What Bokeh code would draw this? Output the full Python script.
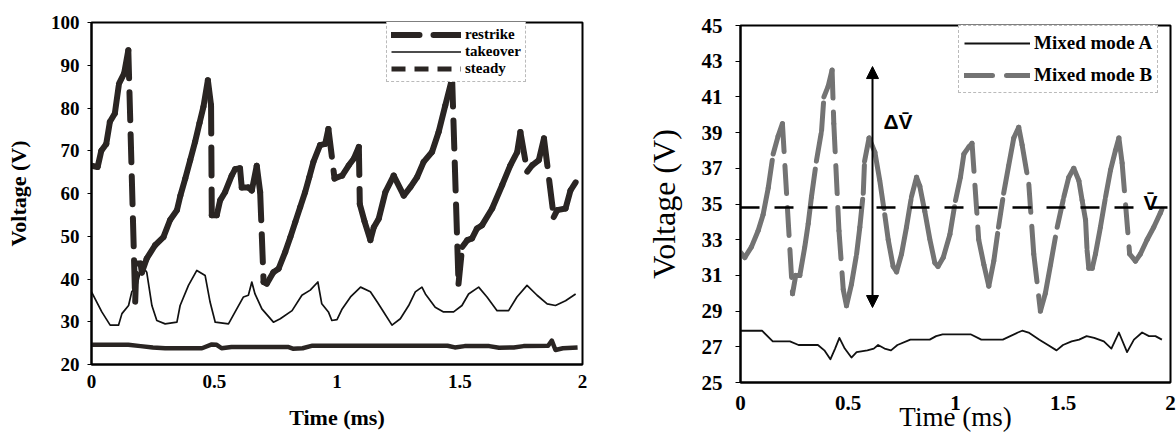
from bokeh.plotting import figure
from bokeh.layouts import row
from bokeh.models import (Range1d, FixedTicker, Legend, LegendItem, Arrow, NormalHead,
                          Label, Span, ColumnDataSource)
from bokeh.embed import file_html
from bokeh.resources import INLINE

# ---------------- left panel data (Voltage vs time) ----------------
restrike_t = [0.0, 0.025, 0.04, 0.06, 0.075, 0.095, 0.112, 0.133, 0.15,
              0.178, 0.183, 0.2, 0.205, 0.225, 0.259, 0.293, 0.32, 0.348, 0.362, 0.382,
              0.402, 0.422, 0.44, 0.456, 0.474, 0.487,
              0.49, 0.51, 0.524, 0.544, 0.571, 0.585, 0.605, 0.612, 0.639, 0.653, 0.673, 0.687,
              0.701, 0.714, 0.741, 0.762, 0.789, 0.81, 0.83, 0.85, 0.87, 0.887, 0.904, 0.931,
              0.952, 0.965, 0.99, 1.021, 1.048, 1.069, 1.089, 1.093, 1.112, 1.136, 1.15, 1.17,
              1.197, 1.231, 1.272, 1.299, 1.326, 1.353, 1.387, 1.414, 1.441, 1.469,
              1.495, 1.51, 1.531, 1.55, 1.57, 1.591, 1.632, 1.673, 1.706, 1.734, 1.747,
              1.775, 1.795, 1.822, 1.843, 1.883, 1.897, 1.931, 1.951, 1.972]
restrike_v = [66.5, 66.2, 70.0, 71.6, 76.8, 78.7, 85.7, 88.1, 93.5,
              34.7, 43.6, 43.6, 41.5, 44.8, 47.9, 49.8, 53.8, 56.1, 59.5, 63.5,
              67.8, 72.1, 76.5, 80.3, 86.5, 80.6,
              54.9, 54.9, 58.4, 60.3, 64.2, 65.7, 65.9, 61.4, 61.4, 60.7, 66.5, 60.3,
              39.3, 38.9, 41.6, 42.4, 46.3, 49.8, 53.3, 56.8, 60.3, 63.8, 67.4, 71.3,
              71.6, 75.1, 63.5, 64.2, 66.6, 68.2, 70.9, 57.5, 53.5, 49.1, 52.1, 54.1,
              60.3, 64.2, 59.5, 61.5, 63.8, 67.4, 69.7, 74.4, 80.6, 86.9,
              38.9, 47.5, 49.1, 49.5, 51.8, 52.6, 56.5, 62.0, 66.6, 69.7, 74.4,
              65.1, 66.6, 67.8, 72.9, 54.5, 56.1, 56.5, 60.7, 62.6]

takeover_t = [0.0, 0.042, 0.076, 0.11, 0.124, 0.151, 0.164, 0.185, 0.205, 0.225, 0.246,
              0.266, 0.3, 0.348, 0.361, 0.395, 0.429, 0.463, 0.483, 0.504, 0.558, 0.585,
              0.619, 0.639, 0.653, 0.666, 0.694, 0.741, 0.769, 0.817, 0.857, 0.891, 0.922,
              0.938, 0.965, 0.979, 1.0, 1.021, 1.055, 1.096, 1.136, 1.164, 1.19, 1.224,
              1.258, 1.292, 1.319, 1.346, 1.36, 1.4, 1.434, 1.475, 1.509, 1.536, 1.577,
              1.611, 1.652, 1.699, 1.733, 1.774, 1.815, 1.856, 1.89, 1.931, 1.972]
takeover_v = [37.0, 32.3, 29.2, 29.2, 31.9, 33.8, 37.0, 38.5, 43.2, 41.6, 33.8,
              30.3, 29.5, 29.9, 33.8, 38.5, 42.0, 40.8, 34.6, 29.9, 29.5, 32.3,
              35.8, 36.2, 39.3, 36.5, 33.0, 29.9, 30.7, 32.6, 36.2, 37.4, 39.3,
              34.2, 32.3, 30.3, 30.5, 33.0, 35.8, 38.1, 37.0, 34.6, 32.3, 29.2,
              30.7, 33.8, 37.0, 38.1, 36.5, 33.4, 32.3, 32.3, 33.8, 36.5, 38.1,
              35.8, 32.6, 32.6, 35.8, 38.5, 36.2, 34.2, 33.8, 34.9, 36.5]

steady_t = [0.0, 0.15, 0.2, 0.25, 0.3, 0.45, 0.49, 0.51, 0.53, 0.57, 0.8, 0.82, 0.86,
            0.9, 1.0, 1.45, 1.48, 1.52, 1.62, 1.66, 1.72, 1.76, 1.86, 1.875, 1.89, 1.92, 1.98]
steady_v = [24.6, 24.6, 24.3, 24.0, 23.8, 23.8, 24.7, 24.6, 23.8, 24.1, 24.1, 23.7, 23.8,
            24.4, 24.4, 24.4, 24.0, 24.3, 24.3, 23.9, 24.0, 24.3, 24.4, 25.6, 23.4, 23.8, 24.0]

left_series_labels = ["restrike", "takeover", "steady"]
left_x_ticks = [0, 0.5, 1, 1.5, 2]
left_x_labels = ["0", "0.5", "1", "1.5", "2"]
left_y_ticks = [20, 30, 40, 50, 60, 70, 80, 90, 100]

# ---------------- right panel data ----------------
modeA_t = [0.0, 0.1, 0.15, 0.23, 0.27, 0.36, 0.39, 0.418, 0.44, 0.46, 0.485, 0.516, 0.54,
           0.59, 0.62, 0.64, 0.67, 0.70, 0.73, 0.79, 0.88, 0.91, 0.94, 1.07, 1.12, 1.18,
           1.22, 1.29, 1.31, 1.34, 1.39, 1.43, 1.47, 1.5, 1.54, 1.575, 1.61, 1.645, 1.69,
           1.725, 1.76, 1.798, 1.83, 1.868, 1.9, 1.93, 1.96]
modeA_v = [27.9, 27.9, 27.3, 27.3, 27.1, 27.1, 26.8, 26.3, 26.9, 27.5, 26.9, 26.4, 26.7,
           26.8, 26.9, 27.1, 26.9, 26.8, 27.1, 27.4, 27.4, 27.6, 27.7, 27.7, 27.4, 27.4,
           27.4, 27.8, 27.9, 27.8, 27.4, 27.1, 26.8, 27.1, 27.3, 27.4, 27.6, 27.5, 27.3,
           26.9, 27.8, 26.7, 27.4, 27.8, 27.6, 27.6, 27.4]

modeB_t = [0.0, 0.02, 0.051, 0.082, 0.105, 0.129, 0.152, 0.175, 0.195, 0.242, 0.257, 0.276,
           0.299, 0.315, 0.33, 0.353, 0.377, 0.388, 0.408, 0.426, 0.434, 0.458, 0.478, 0.493,
           0.516, 0.54, 0.555, 0.571, 0.577, 0.598, 0.625, 0.648, 0.671, 0.687, 0.71, 0.726,
           0.749, 0.772, 0.795, 0.819, 0.834, 0.857, 0.881, 0.904, 0.919, 0.943, 0.974, 1.0,
           1.023, 1.039, 1.062, 1.077, 1.108, 1.132, 1.155, 1.178, 1.2, 1.224, 1.248, 1.271,
           1.294, 1.31, 1.341, 1.364, 1.395, 1.418, 1.442, 1.473, 1.504, 1.527, 1.55, 1.574,
           1.589, 1.605, 1.612, 1.62, 1.636, 1.651, 1.674, 1.698, 1.721, 1.744, 1.76, 1.775,
           1.81, 1.837, 1.86, 1.891, 1.922, 1.953, 1.96]
modeB_v = [32.3, 32.0, 32.6, 33.5, 34.4, 35.9, 37.8, 38.8, 39.5, 29.97, 31.0, 31.0,
           32.6, 33.9, 35.4, 37.4, 39.1, 41.0, 41.6, 42.5, 39.5, 33.5, 30.2, 29.3,
           30.5, 32.2, 33.7, 35.6, 37.4, 38.7, 37.9, 36.3, 34.4, 33.0, 31.5, 31.2,
           32.2, 33.7, 35.4, 36.5, 36.0, 34.6, 33.0, 31.7, 31.5, 32.0, 33.3, 35.2,
           36.5, 37.8, 38.2, 38.4, 33.0, 31.6, 30.4, 31.8, 33.7, 35.6, 37.2, 38.7,
           39.3, 38.3, 36.1, 32.2, 29.0, 30.0, 31.6, 33.7, 35.4, 36.5, 37.0, 36.3,
           35.2, 34.1, 32.4, 31.4, 31.4, 32.2, 33.7, 35.4, 36.9, 38.0, 38.7, 37.3,
           32.2, 31.8, 32.2, 33.0, 33.7, 34.5, 34.7]

right_series_labels = ["Mixed mode A", "Mixed mode B"]
right_x_ticks = [0, 0.5, 1, 1.5, 2]
right_x_labels = ["0", "0.5", "1", "1.5", "2"]
right_y_ticks = [25, 27, 29, 31, 33, 35, 37, 39, 41, 43, 45]

mean_v = 34.8          # V-bar level
delta_t = 0.614        # time at which the delta-V arrow is drawn
delta_lo = 29.2
delta_hi = 42.7

SERIF = "Liberation Serif"
SANS = "Liberation Sans"
DARK = "#2a2523"
NAN = float("nan")


def segs(t, v):
    return ColumnDataSource(dict(x0=t[:-1], y0=v[:-1], x1=t[1:], y1=v[1:]))


def style(p, xt, xl, yt):
    p.grid.visible = False
    p.outline_line_color = "black"
    p.outline_line_width = 2
    p.outline_line_alpha = 1
    p.background_fill_color = "white"
    p.border_fill_color = "white"
    p.xaxis.ticker = FixedTicker(ticks=xt)
    p.xaxis.major_label_overrides = {float(a): b for a, b in zip(xt, xl)}
    p.yaxis.ticker = FixedTicker(ticks=yt)
    for ax in (p.xaxis[0], p.yaxis[0]):
        ax.axis_line_width = 2
        ax.axis_line_color = "black"
        ax.major_label_text_font = SERIF
        ax.major_label_text_font_style = "bold"
        ax.major_label_text_color = "black"
        ax.axis_label_text_font = SERIF
        ax.axis_label_text_color = "black"
        ax.minor_tick_line_color = None
        ax.major_tick_in = 0
    p.xaxis.major_tick_out = 0


# ================= LEFT PANEL =================
p1 = figure(width=620, height=438, x_range=Range1d(0, 2), y_range=Range1d(20, 100),
            output_backend="svg", toolbar_location=None, frame_align=False,
            min_border_left=91, min_border_right=38, min_border_top=22, min_border_bottom=74)
style(p1, left_x_ticks, left_x_labels, left_y_ticks)
p1.xaxis.axis_label = "Time (ms)"
p1.yaxis.axis_label = "Voltage (V)"
p1.xaxis.major_label_text_font_size = "19px"
p1.yaxis.major_label_text_font_size = "19px"
p1.xaxis.axis_label_text_font_size = "22px"
p1.yaxis.axis_label_text_font_size = "22px"
p1.xaxis.axis_label_text_font_style = "bold"
p1.yaxis.axis_label_text_font_style = "bold"
p1.xaxis.major_label_standoff = 10
p1.xaxis.axis_label_standoff = 14
p1.yaxis.major_tick_out = 4
p1.yaxis.major_label_standoff = 8
p1.yaxis.axis_label_standoff = 17

r_steady = p1.line(steady_t, steady_v, line_width=4.5, line_color=DARK, line_join="round")
r_take = p1.line(takeover_t, takeover_v, line_width=1.7, line_color="#111111", line_join="round")
r_restrike = p1.segment(x0="x0", y0="y0", x1="x1", y1="y1", source=segs(restrike_t, restrike_v),
                        line_width=6, line_color=DARK, line_dash="28 14", line_cap="round")
# legend key for the (short-dash) steady series; it carries no data point
r_steady_key = p1.line(x=[NAN], y=[NAN], line_width=5, line_color=DARK, line_dash="14 9")

leg1 = Legend(items=[LegendItem(label=left_series_labels[0], renderers=[r_restrike]),
                     LegendItem(label=left_series_labels[1], renderers=[r_take]),
                     LegendItem(label=left_series_labels[2], renderers=[r_steady_key])],
              location=(295, 282), orientation="vertical",
              glyph_width=70, glyph_height=17, label_height=17, label_standoff=4,
              padding=4, spacing=0, margin=0,
              label_text_font=SERIF, label_text_font_size="15px", label_text_font_style="bold",
              label_text_color="black",
              border_line_color="#777777", border_line_dash="2 2", border_line_width=1,
              background_fill_color="white", background_fill_alpha=1)
p1.add_layout(leg1)

# ================= RIGHT PANEL =================
p2 = figure(width=556, height=438, x_range=Range1d(0, 2), y_range=Range1d(25, 45),
            output_backend="svg", toolbar_location=None, frame_align=False,
            min_border_left=120, min_border_right=6, min_border_top=25, min_border_bottom=56)
style(p2, right_x_ticks, right_x_labels, right_y_ticks)
p2.xaxis.axis_label = "Time (ms)"
p2.yaxis.axis_label = "Voltage (V)"
p2.xaxis.major_label_text_font_size = "21px"
p2.yaxis.major_label_text_font_size = "21px"
p2.xaxis.axis_label_text_font_size = "27px"
p2.yaxis.axis_label_text_font_size = "32px"
p2.xaxis.axis_label_text_font_style = "normal"
p2.yaxis.axis_label_text_font_style = "normal"
p2.xaxis.major_label_standoff = 13
p2.xaxis.axis_label_standoff = -11
p2.yaxis.major_tick_out = 5
p2.yaxis.major_label_standoff = 13
p2.yaxis.axis_label_standoff = 17

rB = p2.segment(x0="x0", y0="y0", x1="x1", y1="y1", source=segs(modeB_t, modeB_v),
                line_width=5, line_color="#737373", line_dash="28 14", line_cap="round")
rA = p2.line(modeA_t, modeA_v, line_width=1.8, line_color="#111111", line_join="round")

p2.add_layout(Span(location=mean_v, dimension="width", line_color="black",
                   line_width=2.5, line_dash="19 15"))
p2.add_layout(Arrow(x_start=delta_t, y_start=delta_lo, x_end=delta_t, y_end=delta_hi,
                    line_width=2, line_color="black",
                    start=NormalHead(size=12, fill_color="black", line_color="black", line_width=1),
                    end=NormalHead(size=12, fill_color="black", line_color="black", line_width=1)))
p2.add_layout(Label(x=delta_t, y=39.6, x_offset=11, text="\u0394V\u0304",
                    text_font=SANS, text_font_style="bold", text_font_size="21px",
                    text_color="black", text_baseline="alphabetic", text_align="left"))
p2.add_layout(Label(x=1.907, y=35.1, text="V\u0304",
                    text_font=SANS, text_font_style="bold", text_font_size="21px",
                    text_color="black", text_baseline="alphabetic", text_align="center"))

leg2 = Legend(items=[LegendItem(label=right_series_labels[0], renderers=[rA]),
                     LegendItem(label=right_series_labels[1], renderers=[rB])],
              location=(218, 289), orientation="vertical",
              glyph_width=66, glyph_height=24, label_height=24, label_standoff=4,
              padding=5, spacing=8, margin=0,
              label_text_font=SERIF, label_text_font_size="19px", label_text_font_style="bold",
              label_text_color="black",
              border_line_color="#777777", border_line_dash="2 2", border_line_width=1,
              background_fill_color="white", background_fill_alpha=1)
p2.add_layout(leg2)

layout = row(p1, p2)
open("out.html", "w").write(file_html(layout, INLINE))
